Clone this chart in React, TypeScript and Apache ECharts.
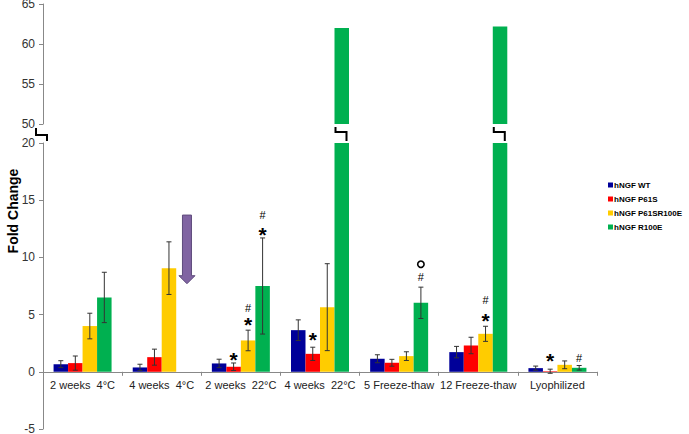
import React, { useEffect, useRef } from "react";
import * as echarts from "echarts";

const categories = [
  "2 weeks\u00a0 4°C",
  "4 weeks\u00a0 4°C",
  "2 weeks\u00a0 22°C",
  "4 weeks\u00a0 22°C",
  "5 Freeze-thaw",
  "12 Freeze-thaw",
  "Lyophilized",
];
const seriesNames = ["hNGF WT", "hNGF P61S", "hNGF P61SR100E", "hNGF R100E"];
const seriesColors = ["#000099", "#FF0000", "#FFCC00", "#00B050"];

const wtValues = [0.67, 0.38, 0.73, 3.64, 1.14, 1.72, 0.32];
const wtErr = [0.3, 0.28, 0.37, 0.9, 0.35, 0.5, 0.18];
const p61sValues = [0.76, 1.28, 0.44, 1.57, 0.79, 2.3, 0.05];
const p61sErr = [0.62, 0.7, 0.33, 0.58, 0.3, 0.72, 0.18];
const p61sr100eValues = [4.0, 9.06, 2.74, 5.65, 1.37, 3.32, 0.61];
const p61sr100eErr = [1.12, 2.3, 0.9, 3.8, 0.38, 0.66, 0.34];
const r100eValues: (number | null)[] = [6.5, null, 7.5, 62.0, 6.03, 62.2, 0.35];
const r100eErr: (number | null)[] = [2.2, null, 4.2, 0, 1.37, 0, 0.2];

const lowerTicks = [-5, 0, 5, 10, 15, 20];
const upperTicks = [50, 55, 60, 65];

// significance marks: category, series index, height (fold change), symbol
const annotCats = [2, 2, 2, 2, 2, 3, 4, 4, 5, 5, 6, 6];
const annotSeries = [1, 2, 2, 3, 3, 1, 3, 3, 2, 2, 1, 3];
const annotHeights = [1.5, 4.5, 5.6, 12.4, 13.7, 3.2, 8.3, 9.4, 4.9, 6.3, 1.35, 1.22];
const annotSymbols = ["*", "*", "#", "*", "#", "*", "#", "o", "*", "#", "*", "#"];

// purple arrow over the missing R100E bar (category, from, to)
const arrowCat = 1;
const arrowFrom = 13.7;
const arrowTo = 7.7;

const valueSets = [wtValues, p61sValues, p61sr100eValues, r100eValues];
const errSets = [wtErr, p61sErr, p61sr100eErr, r100eErr];

const BAR_W = 14.5;
const FONT = "Liberation Sans, Arial, sans-serif";
const LOW_H = 286;

export default function App() {
  const ref = useRef<HTMLDivElement>(null);
  useEffect(() => {
    if (!ref.current) return;
    const chart = echarts.init(ref.current, undefined, { renderer: "svg" });
    const lowMin = lowerTicks[0];
    const lowMax = lowerTicks[lowerTicks.length - 1];
    const upMin = upperTicks[0];
    const upMax = upperTicks[upperTicks.length - 1];

    const errData: number[][] = [];
    valueSets.forEach((vals, s) => {
      vals.forEach((v, i) => {
        const e = errSets[s][i];
        if (v != null && e != null && e > 0) errData.push([i, v, e, s]);
      });
    });
    const annotData = annotCats.map((c, k) => [c, annotHeights[k], annotSeries[k], k]);
    const breakData: number[][] = [];
    r100eValues.forEach((v, i) => {
      if (v != null && v > lowMax) breakData.push([i, upMin]);
    });

    const lowerBars = seriesNames.map((name, s) => ({
      name,
      type: "bar",
      xAxisIndex: 1,
      yAxisIndex: 1,
      data: valueSets[s],
      barWidth: BAR_W,
      barGap: "0%",
      itemStyle: { color: seriesColors[s] },
      clip: true,
      z: 2,
    }));
    const upperBars = seriesNames.map((name, s) => ({
      name,
      type: "bar",
      xAxisIndex: 0,
      yAxisIndex: 0,
      data: valueSets[s].map((v) => (v != null && v > upMin ? v : null)),
      barWidth: BAR_W,
      barGap: "0%",
      itemStyle: { color: seriesColors[s] },
      clip: true,
      z: 2,
    }));

    const axisLineStyle = { color: "#888888", width: 1 };
    const zeroOffset = -((0 - lowMin) / (lowMax - lowMin)) * LOW_H;

    const legendGraphics: any[] = [];
    seriesNames.forEach((name, s) => {
      const cy = 185 + s * 14;
      legendGraphics.push({
        type: "rect",
        shape: { x: 608, y: cy - 2.5, width: 5, height: 5 },
        style: { fill: seriesColors[s] },
      });
      legendGraphics.push({
        type: "text",
        x: 614,
        y: cy,
        style: {
          text: name,
          font: `bold 8px ${FONT}`,
          fill: "#000",
          textAlign: "left",
          textVerticalAlign: "middle",
        },
      });
    });

    chart.setOption({
      animation: false,
      textStyle: { fontFamily: FONT },
      grid: [
        { left: 43, right: 92, top: 4, height: 120, outerBoundsMode: "none" },
        { left: 43, right: 92, top: 143, height: LOW_H, outerBoundsMode: "none" },
      ],
      xAxis: [
        {
          gridIndex: 0,
          type: "category",
          data: categories,
          show: false,
        },
        {
          gridIndex: 1,
          type: "category",
          data: categories,
          position: "bottom",
          offset: zeroOffset,
          axisLine: { show: true, onZero: false, lineStyle: axisLineStyle },
          axisTick: { show: true, length: 4, lineStyle: axisLineStyle },
          axisLabel: { fontSize: 11, color: "#222", margin: 8, fontFamily: FONT, interval: 0 },
        },
      ],
      yAxis: [
        {
          gridIndex: 0,
          type: "value",
          min: upMin,
          max: upMax,
          interval: 5,
          axisLine: { show: true, lineStyle: axisLineStyle },
          axisTick: { show: true, length: 4, lineStyle: axisLineStyle },
          axisLabel: { fontSize: 12, color: "#333", margin: 8, fontFamily: FONT },
          splitLine: { show: false },
        },
        {
          gridIndex: 1,
          type: "value",
          min: lowMin,
          max: lowMax,
          interval: 5,
          axisLine: { show: true, lineStyle: axisLineStyle },
          axisTick: { show: true, length: 4, lineStyle: axisLineStyle },
          axisLabel: { fontSize: 12, color: "#333", margin: 8, fontFamily: FONT },
          splitLine: { show: false },
        },
      ],
      graphic: [
        {
          type: "text",
          x: 13,
          y: 211,
          rotation: Math.PI / 2,
          style: {
            text: "Fold Change",
            font: `bold 14px ${FONT}`,
            fill: "#000",
            textAlign: "center",
            textVerticalAlign: "middle",
          },
        },
        {
          type: "polyline",
          shape: { points: [[36, 128], [36, 135], [47, 135], [47, 141]] },
          style: { stroke: "#000", lineWidth: 2, fill: "none" },
          z: 10,
        },
        ...legendGraphics,
      ],
      series: [
        ...upperBars,
        ...lowerBars,
        {
          type: "custom",
          name: "err",
          xAxisIndex: 1,
          yAxisIndex: 1,
          data: errData,
          encode: { x: 0, y: 1 },
          z: 5,
          renderItem: (params: any, api: any) => {
            const cat = api.value(0);
            const v = api.value(1);
            const e = api.value(2);
            const s = api.value(3);
            const off = (s - 1.5) * BAR_W;
            const top = api.coord([cat, v + e]);
            const bot = api.coord([cat, v - e]);
            const x = top[0] + off;
            const st = { stroke: "#333", lineWidth: 1 };
            return {
              type: "group",
              children: [
                { type: "line", shape: { x1: x, y1: top[1], x2: x, y2: bot[1] }, style: st },
                { type: "line", shape: { x1: x - 2.5, y1: top[1], x2: x + 2.5, y2: top[1] }, style: st },
                { type: "line", shape: { x1: x - 2.5, y1: bot[1], x2: x + 2.5, y2: bot[1] }, style: st },
              ],
            };
          },
        },
        {
          type: "custom",
          name: "annot",
          xAxisIndex: 1,
          yAxisIndex: 1,
          data: annotData,
          encode: { x: 0, y: 1 },
          z: 6,
          renderItem: (params: any, api: any) => {
            const cat = api.value(0);
            const h = api.value(1);
            const s = api.value(2);
            const k = api.value(3);
            const sym = annotSymbols[k];
            const p = api.coord([cat, h]);
            const x = p[0] + (s - 1.5) * BAR_W;
            if (sym === "*") {
              return {
                type: "text",
                x,
                y: p[1] + 4.5,
                style: {
                  text: "*",
                  font: `bold 21px ${FONT}`,
                  fill: "#000",
                  textAlign: "center",
                  textVerticalAlign: "middle",
                },
              };
            }
            if (sym === "o") {
              return {
                type: "circle",
                shape: { cx: x, cy: p[1], r: 3.2 },
                style: { fill: "none", stroke: "#000", lineWidth: 1.6 },
              };
            }
            return {
              type: "text",
              x,
              y: p[1],
              style: {
                text: sym,
                font: `11px ${FONT}`,
                fill: "#000",
                textAlign: "center",
                textVerticalAlign: "middle",
              },
            };
          },
        },
        {
          type: "custom",
          name: "arrow",
          xAxisIndex: 1,
          yAxisIndex: 1,
          data: [[arrowCat, arrowFrom, arrowTo]],
          encode: { x: 0, y: 1 },
          z: 6,
          renderItem: (params: any, api: any) => {
            const cat = api.value(0);
            const a = api.coord([cat, api.value(1)]);
            const b = api.coord([cat, api.value(2)]);
            const x = a[0] + 1.5 * BAR_W + 3.5;
            const yTop = a[1];
            const yTip = b[1];
            const hh = 8;
            return {
              type: "polygon",
              shape: {
                points: [
                  [x - 4.5, yTop],
                  [x + 4.5, yTop],
                  [x + 4.5, yTip - hh],
                  [x + 8, yTip - hh],
                  [x, yTip],
                  [x - 8, yTip - hh],
                  [x - 4.5, yTip - hh],
                ],
              },
              style: { fill: "#8064A2", stroke: "#5E4B7C", lineWidth: 1 },
            };
          },
        },
        {
          type: "custom",
          name: "breaks",
          xAxisIndex: 0,
          yAxisIndex: 0,
          data: breakData,
          encode: { x: 0, y: 1 },
          clip: false,
          z: 6,
          renderItem: (params: any, api: any) => {
            const p = api.coord([api.value(0), api.value(1)]);
            const left = p[0] + 1.5 * BAR_W - BAR_W / 2 + 1;
            const y0 = p[1];
            return {
              type: "polyline",
              shape: {
                points: [
                  [left, y0 + 3],
                  [left, y0 + 8],
                  [left + 11, y0 + 8],
                  [left + 11, y0 + 17],
                ],
              },
              style: { stroke: "#000", lineWidth: 2, fill: "none" },
            };
          },
        },
      ],
    });
    return () => chart.dispose();
  }, []);
  return (
    <div
      ref={ref}
      style={{ position: "absolute", left: 0, top: 0, width: 689, height: 434, background: "#fff" }}
    />
  );
}
